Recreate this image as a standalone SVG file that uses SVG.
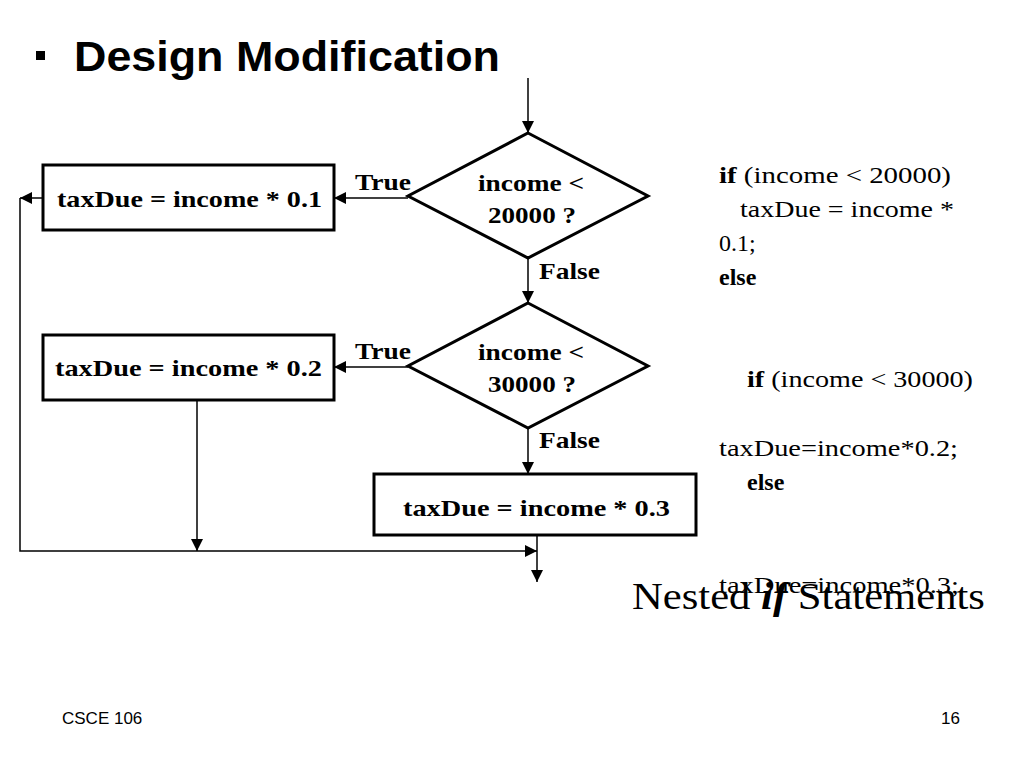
<svg xmlns="http://www.w3.org/2000/svg" width="1024" height="768" viewBox="0 0 1024 768">
<style>
.n{fill:#fff;stroke:#000;stroke-width:3}
.l{fill:none;stroke:#000;stroke-width:1.5}
.b{font-family:"Liberation Serif",serif;font-weight:bold;font-size:24px;fill:#000}
.c{font-family:"Liberation Serif",serif;font-size:24px;fill:#000}
</style>
<defs><marker id="a" viewBox="0 0 10 10" refX="10" refY="5" markerWidth="12" markerHeight="12" markerUnits="userSpaceOnUse" orient="auto"><path d="M0,0L10,5L0,10z" fill="#000"/></marker></defs>
<rect width="1024" height="768" fill="#fff"/>
<rect x="36" y="51" width="9" height="9" fill="#000"/>
<text x="74" y="71" font-family="Liberation Sans,sans-serif" font-weight="bold" font-size="43" textLength="426" lengthAdjust="spacingAndGlyphs">Design Modification</text>
<g id="connectors">
<path class="l" d="M528,78V133" marker-end="url(#a)"/>
<path class="l" d="M408,198H334" marker-end="url(#a)"/>
<path class="l" d="M528,258V303" marker-end="url(#a)"/>
<path class="l" d="M408,367H334" marker-end="url(#a)"/>
<path class="l" d="M528,428V474" marker-end="url(#a)"/>
<path class="l" d="M43,198H20" marker-end="url(#a)"/>
<path class="l" d="M20,198V551H537" marker-end="url(#a)"/>
<path class="l" d="M197,400V551" marker-end="url(#a)"/>
<path class="l" d="M537,535V582" marker-end="url(#a)"/>
</g>
<g id="d1"><path class="n" d="M528,133L648,196L528,258L408,196z"/><text class="b" x="478" y="191" textLength="106" lengthAdjust="spacingAndGlyphs">income &lt;</text><text class="b" x="488" y="223" textLength="88" lengthAdjust="spacingAndGlyphs">20000 ?</text></g>
<g id="b1"><rect class="n" x="43" y="165" width="291" height="65"/><text class="b" x="57" y="207" textLength="265" lengthAdjust="spacingAndGlyphs">taxDue = income * 0.1</text></g>
<g id="d2"><path class="n" d="M528,303L648,366L528,428L408,366z"/><text class="b" x="478" y="360" textLength="106" lengthAdjust="spacingAndGlyphs">income &lt;</text><text class="b" x="488" y="392" textLength="88" lengthAdjust="spacingAndGlyphs">30000 ?</text></g>
<g id="b2"><rect class="n" x="43" y="335" width="291" height="65"/><text class="b" x="55" y="376" textLength="267" lengthAdjust="spacingAndGlyphs">taxDue = income * 0.2</text></g>
<g id="b3"><rect class="n" x="374" y="474" width="322" height="61"/><text class="b" x="403" y="516" textLength="267" lengthAdjust="spacingAndGlyphs">taxDue = income * 0.3</text></g>
<text class="b" x="355" y="190" textLength="56" lengthAdjust="spacingAndGlyphs">True</text>
<text class="b" x="355" y="359" textLength="56" lengthAdjust="spacingAndGlyphs">True</text>
<text class="b" x="539" y="279" textLength="61" lengthAdjust="spacingAndGlyphs">False</text>
<text class="b" x="539" y="448" textLength="61" lengthAdjust="spacingAndGlyphs">False</text>
<g class="c">
<text x="719" y="183" textLength="232" lengthAdjust="spacingAndGlyphs"><tspan font-weight="bold">if</tspan> (income &lt; 20000)</text>
<text x="740" y="217" textLength="214" lengthAdjust="spacingAndGlyphs">taxDue = income *</text>
<text x="719" y="251">0.1;</text>
<text x="719" y="285" font-weight="bold">else</text>
<text x="747" y="387" textLength="226" lengthAdjust="spacingAndGlyphs"><tspan font-weight="bold">if</tspan> (income &lt; 30000)</text>
<text x="719" y="456" textLength="239" lengthAdjust="spacingAndGlyphs">taxDue=income*0.2;</text>
<text x="747" y="490" font-weight="bold">else</text>
<text x="719" y="593" textLength="240" lengthAdjust="spacingAndGlyphs">taxDue=income*0.3;</text>
</g>
<text x="632" y="609" font-family="Liberation Serif,serif" font-size="38" textLength="353" lengthAdjust="spacingAndGlyphs">Nested <tspan font-weight="bold" font-style="italic">if</tspan> Statements</text>
<text x="62" y="724" font-family="Liberation Sans,sans-serif" font-size="17">CSCE 106</text>
<text x="960" y="724" font-family="Liberation Sans,sans-serif" font-size="17" text-anchor="end">16</text>
</svg>
